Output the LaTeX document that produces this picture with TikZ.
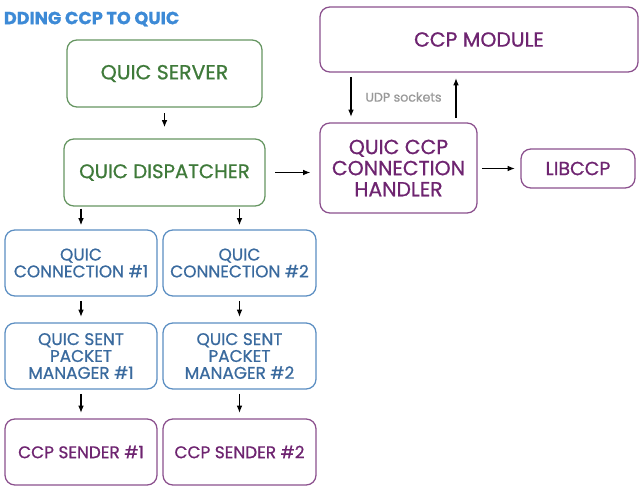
\documentclass[tikz,border=0pt]{standalone}
\usepackage{fontspec}
\setmainfont{Poppins}[FakeBold=0.8]
\usetikzlibrary{positioning}
\usetikzlibrary{arrows.meta}
\definecolor{qgreen}{HTML}{3F7A3A}
\definecolor{qblue}{HTML}{3A6A9E}
\definecolor{qblueline}{HTML}{5B8EC2}
\definecolor{qpurple}{HTML}{6E2470}
\definecolor{qtitle}{HTML}{3D8AD6}
\newcommand{\px}{0.025cm}
\tikzset{
    box/.style = {rectangle, rounded corners=7pt, line width=0.9pt, align=center, inner sep=0pt},
    boxg/.style = {box, draw=qgreen!80, text=qgreen, font=\fontsize{14.5}{17}\selectfont},
    boxp/.style = {box, draw=qpurple!80, text=qpurple, font=\fontsize{14.5}{15}\selectfont},
    conn/.style = {box, draw=qblueline, text=qblue, minimum width=152*\px, minimum height=66*\px, font=\fontsize{12}{12}\selectfont},
    sender/.style = {box, draw=qpurple!80, text=qpurple, minimum width=152*\px, minimum height=66*\px, font=\fontsize{12}{12}\selectfont},
    edgen/.style = {-{Latex[length=5pt,width=4pt]}, line width=0.75pt, shorten <=3pt, shorten >=4pt},
}
\begin{document}
\begin{tikzpicture}[x=\px,y=-\px]
\useasboundingbox (0,0) rectangle (640,494);
%
\node[anchor=west, text=qtitle, font=\fontsize{12.5}{13}\selectfont\bfseries] at (-1, 19) (title) {DDING CCP TO QUIC};
%
\node[boxg, minimum width=195*\px, minimum height=67*\px] at (164.5, 73.5) (server) {QUIC SERVER};
\node[boxg, minimum width=201*\px, minimum height=67*\px, font=\fontsize{14}{17}\selectfont] at (164.5, 172.5) (disp) {QUIC DISPATCHER};
%
\node[boxp, minimum width=318*\px, minimum height=65*\px] at (479, 39.5) (module) {CCP MODULE};
\node[boxp, minimum width=157*\px, minimum height=90*\px] at (398.5, 168) (handler) {QUIC CCP\\CONNECTION\\HANDLER};
\node[boxp, minimum width=114*\px, minimum height=39*\px, font=\fontsize{13.5}{15}\selectfont] at (578, 168.5) (libccp) {LIBCCP};
%
\node[conn] at (81, 263) (conna) {QUIC\\CONNECTION \#1};
\node[conn, minimum width=153*\px] at (239.5, 263) (connb) {QUIC\\CONNECTION \#2};
\node[conn] at (81, 356) (spma) {QUIC SENT\\PACKET\\MANAGER \#1};
\node[conn, minimum width=153*\px] at (239.5, 356) (spmb) {QUIC SENT\\PACKET\\MANAGER \#2};
\node[sender] at (81, 452) (senda) {CCP SENDER \#1};
\node[sender, minimum width=153*\px] at (239.5, 452) (sendb) {CCP SENDER \#2};
%
\coordinate (dnh) at ([xshift=-47.5*\px]handler.north);
\coordinate (uph) at ([xshift=57.5*\px]handler.north);
\node[text=gray!80, font=\fontsize{9}{10}\selectfont] at (403.5, 97) (udp) {UDP sockets};
%
\draw[edgen, shorten <=4pt, shorten >=8pt] (server) -- (disp);
\draw[edgen, shorten <=1.5pt, shorten >=3pt] (conna |- disp.south) -- (conna);
\draw[edgen, shorten <=1.5pt, shorten >=3pt] (connb |- disp.south) -- (connb);
\draw[edgen, shorten <=7pt, shorten >=6.5pt] (disp.east) -- (disp.east -| handler.west);
\draw[edgen] (dnh |- module.south) -- (dnh);
\draw[edgen] (uph) -- (uph |- module.south);
\draw[edgen] (handler.east |- libccp) -- (libccp);
%
\draw[edgen] (conna) -- (spma);
\draw[edgen] (connb) -- (spmb);
\draw[edgen] (spma) -- (senda);
\draw[edgen] (spmb) -- (sendb);
\end{tikzpicture}
\end{document}
